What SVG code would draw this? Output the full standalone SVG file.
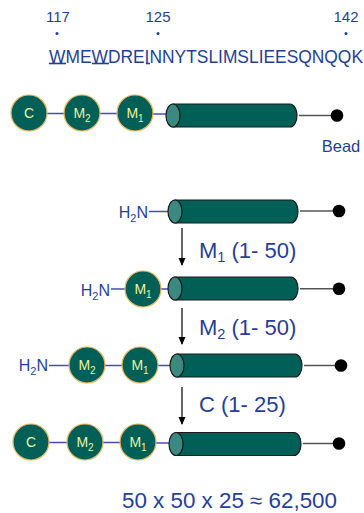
<svg xmlns="http://www.w3.org/2000/svg" width="364" height="513" viewBox="0 0 364 513">
<defs>
<style>
.t{font-family:"Liberation Sans",Arial,sans-serif;fill:#1f3f9a}
.ct{font-family:"Liberation Sans",Arial,sans-serif;fill:#eef0a0;font-size:14px;text-anchor:middle}
.res{fill:#006058;stroke:#e8b860;stroke-width:1.2}
.body{fill:#006058;stroke:#1a1a1a;stroke-width:1.2}
.end{fill:#3a8a82;stroke:#1a1a1a;stroke-width:1.2}
.lk{stroke:#4a4ac0;stroke-width:1.5;fill:none}
.bl{stroke:#555;stroke-width:1.5;fill:none}
.bead{fill:#000}
.arr{stroke:#000;stroke-width:1.2;fill:none}
</style>
<marker id="ah" markerWidth="8" markerHeight="8" refX="7" refY="4" orient="auto" markerUnits="userSpaceOnUse">
<path d="M0,0.5 L8,4 L0,7.5 Z" fill="#000"/>
</marker>
</defs>
<rect width="364" height="513" fill="#fff"/>

<g id="sequence">
<text class="t" x="58" y="21.5" font-size="15" text-anchor="middle">117</text>
<text class="t" x="158" y="21.5" font-size="15" text-anchor="middle">125</text>
<text class="t" x="346" y="21.5" font-size="15" text-anchor="middle">142</text>
<circle cx="57" cy="33.5" r="1.5" fill="#1f3f9a"/>
<circle cx="158" cy="33.5" r="1.5" fill="#1f3f9a"/>
<circle cx="346" cy="33.5" r="1.5" fill="#1f3f9a"/>
<text class="t" x="49" y="63" font-size="17.5" textLength="314" lengthAdjust="spacingAndGlyphs">WMEWDREINNYTSLIMSLIEESQNQQK</text>
<rect x="49" y="62.7" width="17" height="1.6" fill="#1f3f9a"/>
<rect x="92" y="62.7" width="17" height="1.6" fill="#1f3f9a"/>
<rect x="146" y="62.7" width="4" height="1.6" fill="#1f3f9a"/>
</g>

<g id="connectors">
<line class="lk" x1="47" y1="113.5" x2="64" y2="113.5"/>
<line class="lk" x1="100" y1="113.5" x2="117" y2="113.5"/>
<line class="lk" x1="153" y1="114" x2="166" y2="114"/>
<line class="bl" x1="299" y1="115.5" x2="337" y2="115.5"/>
<line class="lk" x1="149" y1="211.5" x2="168" y2="211.5"/>
<line class="bl" x1="300" y1="211" x2="339" y2="211"/>
<line class="lk" x1="111" y1="289" x2="125" y2="289"/>
<line class="lk" x1="161" y1="289" x2="168" y2="289"/>
<line class="bl" x1="300" y1="288.7" x2="339" y2="288.7"/>
<line class="lk" x1="49" y1="365.5" x2="69" y2="365.5"/>
<line class="lk" x1="105" y1="365.5" x2="122" y2="365.5"/>
<line class="lk" x1="158" y1="365.5" x2="170" y2="365.5"/>
<line class="bl" x1="304" y1="365.5" x2="341" y2="365.5"/>
<line class="lk" x1="49" y1="442.5" x2="67" y2="442.5"/>
<line class="lk" x1="103" y1="442.5" x2="120" y2="442.5"/>
<line class="lk" x1="156" y1="443" x2="169" y2="443"/>
<line class="bl" x1="303" y1="443.5" x2="339" y2="443.5"/>
<line class="arr" x1="182" y1="228" x2="182" y2="265" marker-end="url(#ah)"/>
<line class="arr" x1="182" y1="308" x2="182" y2="344" marker-end="url(#ah)"/>
<line class="arr" x1="182" y1="387" x2="182" y2="424" marker-end="url(#ah)"/>
</g>

<g id="row1">
<circle class="res" cx="29" cy="113" r="18"/>
<text class="ct" x="29" y="118">C</text>
<circle class="res" cx="82" cy="113" r="18"/>
<text class="ct" x="82" y="118">M<tspan font-size="10" dy="4">2</tspan></text>
<circle class="res" cx="135" cy="113" r="18"/>
<text class="ct" x="135" y="118">M<tspan font-size="10" dy="4">1</tspan></text>
<path class="body" d="M173,104 L290,104 A7,11.5 0 0 1 290,127 L173,127 Z"/>
<ellipse class="end" cx="173" cy="115.5" rx="7" ry="11.5"/>
<circle class="bead" cx="337" cy="115.5" r="6.3"/>
<text class="t" x="341" y="151.5" font-size="16.5" text-anchor="middle">Bead</text>
</g>

<g id="row2">
<text class="t" x="148" y="218" font-size="16" text-anchor="end">H<tspan font-size="11" dy="4">2</tspan><tspan dy="-4">N</tspan></text>
<path class="body" d="M175,200 L291,200 A7,11.5 0 0 1 291,223 L175,223 Z"/>
<ellipse class="end" cx="175" cy="211.5" rx="7" ry="11.5"/>
<circle class="bead" cx="339" cy="211" r="6.3"/>
</g>

<g id="label-m1">
<text class="t" x="199" y="258" font-size="22">M<tspan font-size="14.5" dy="4">1</tspan><tspan dy="-4"> (1- 50)</tspan></text>
</g>

<g id="row3">
<text class="t" x="110" y="296" font-size="16" text-anchor="end">H<tspan font-size="11" dy="4">2</tspan><tspan dy="-4">N</tspan></text>
<circle class="res" cx="143" cy="289" r="18"/>
<text class="ct" x="143" y="294">M<tspan font-size="10" dy="4">1</tspan></text>
<path class="body" d="M175,277 L291,277 A7,11.5 0 0 1 291,300 L175,300 Z"/>
<ellipse class="end" cx="175" cy="288.5" rx="7" ry="11.5"/>
<circle class="bead" cx="339" cy="288.7" r="6.3"/>
</g>

<g id="label-m2">
<text class="t" x="199" y="335" font-size="22">M<tspan font-size="14.5" dy="4">2</tspan><tspan dy="-4"> (1- 50)</tspan></text>
</g>

<g id="row4">
<text class="t" x="48" y="371" font-size="16" text-anchor="end">H<tspan font-size="11" dy="4">2</tspan><tspan dy="-4">N</tspan></text>
<circle class="res" cx="87" cy="365" r="18"/>
<text class="ct" x="87" y="370">M<tspan font-size="10" dy="4">2</tspan></text>
<circle class="res" cx="140" cy="365" r="18"/>
<text class="ct" x="140" y="370">M<tspan font-size="10" dy="4">1</tspan></text>
<path class="body" d="M177,354 L295,354 A7,11.5 0 0 1 295,377 L177,377 Z"/>
<ellipse class="end" cx="177" cy="365.5" rx="7" ry="11.5"/>
<circle class="bead" cx="341" cy="365.5" r="6.3"/>
</g>

<g id="label-c">
<text class="t" x="199" y="412" font-size="22">C (1- 25)</text>
</g>

<g id="row5">
<circle class="res" cx="31" cy="442" r="18"/>
<text class="ct" x="31" y="447">C</text>
<circle class="res" cx="85" cy="442" r="18"/>
<text class="ct" x="85" y="447">M<tspan font-size="10" dy="4">2</tspan></text>
<circle class="res" cx="138" cy="442" r="18"/>
<text class="ct" x="138" y="447">M<tspan font-size="10" dy="4">1</tspan></text>
<path class="body" d="M176,432.5 L294,432.5 A7,11.5 0 0 1 294,455.5 L176,455.5 Z"/>
<ellipse class="end" cx="176" cy="444" rx="7" ry="11.5"/>
<circle class="bead" cx="339" cy="443.5" r="6.3"/>
</g>

<g id="formula">
<text class="t" x="122" y="508" font-size="21.5" textLength="215" lengthAdjust="spacingAndGlyphs">50 x 50 x 25 ≈ 62,500</text>
</g>
</svg>
